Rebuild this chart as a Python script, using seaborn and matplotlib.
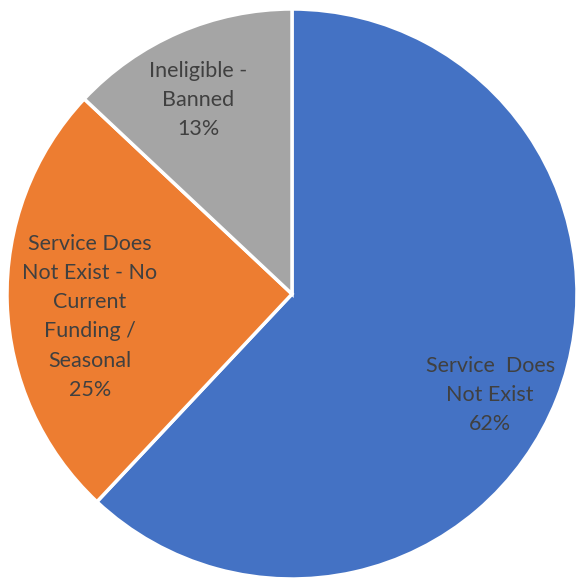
import matplotlib
matplotlib.use("Agg")
import matplotlib.pyplot as plt
import seaborn as sns

categories = ["Service  Does\nNot Exist", "Service Does\nNot Exist - No\nCurrent\nFunding /\nSeasonal", "Ineligible -\nBanned"]
values = [62, 25, 13]
colors = ["#4472C4", "#ED7D31", "#A5A5A5"]
label_pos = [(0.695, -0.355), (-0.709, -0.08), (-0.33, 0.68)]

sns.set_theme(style="white")
plt.rcParams['font.family'] = ['Lato', 'DejaVu Sans']

fig = plt.figure(figsize=(5.76, 5.79), dpi=100)
ax = fig.add_axes([0, 0, 1, 1])
ax.pie(values, colors=colors, startangle=90, counterclock=False, radius=1.0,
       wedgeprops=dict(edgecolor="white", linewidth=2.5))
for cat, v, (x, y) in zip(categories, values, label_pos):
    ax.text(x, y, f"{cat}\n{v}%", ha="center", va="center", fontsize=15.5,
            color="#404040", linespacing=1.58)
ax.set_xlim(-292/285, (576-292)/285)
ax.set_ylim(-1.0, (579-285)/285)
ax.set_aspect("auto")
ax.axis("off")
fig.savefig("out.png", dpi=100, facecolor="white")
